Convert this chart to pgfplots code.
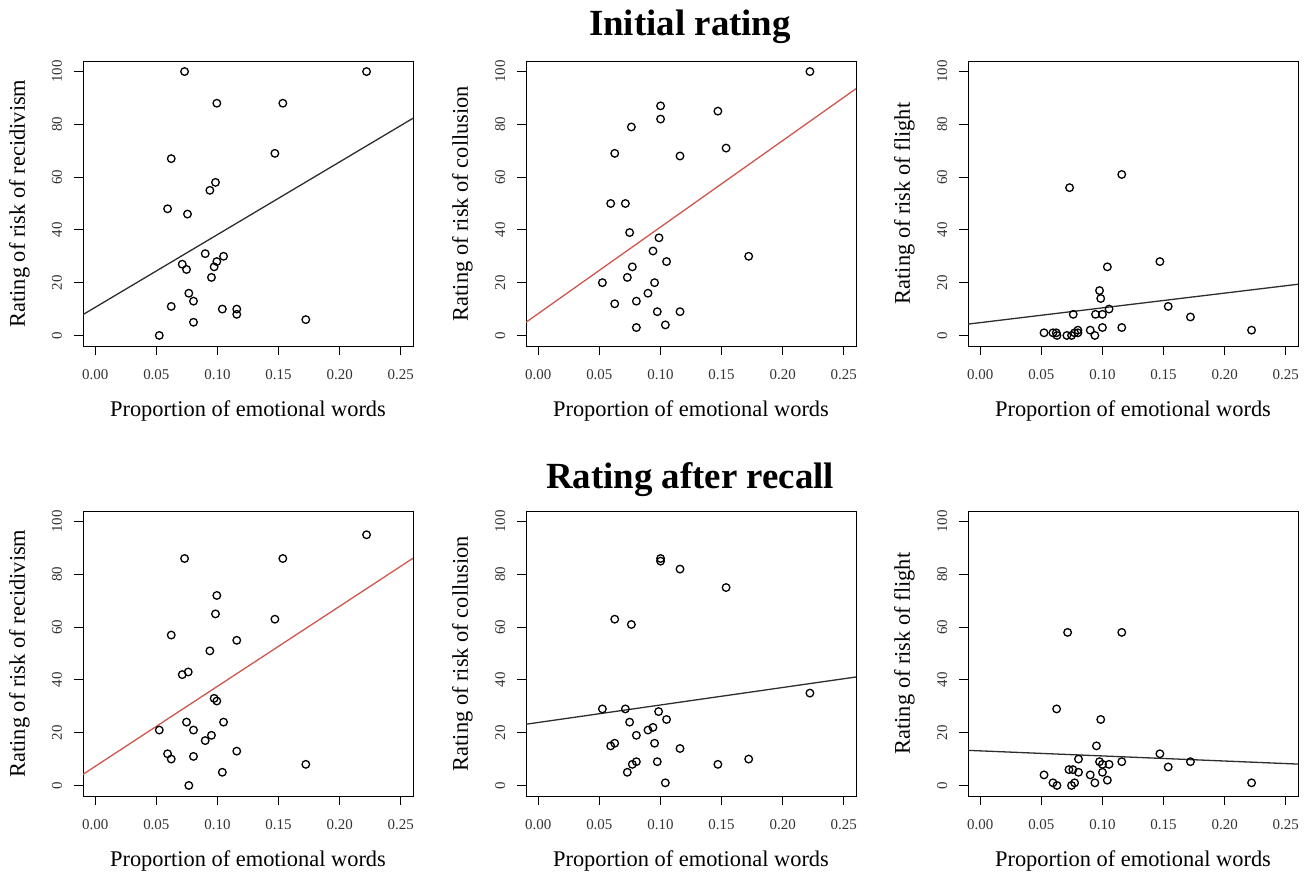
\documentclass[border=0pt]{standalone}
\usepackage{fontspec}
\setmainfont{Liberation Serif}
\usepackage{pgfplots}
\pgfplotsset{compat=1.18}
\definecolor{fitred}{RGB}{206,86,76}
\definecolor{fitdark}{RGB}{45,45,45}

\pgfplotsset{
  panel/.style={
    scale only axis, width=330bp, height=285bp,
    xmin=-0.01, xmax=0.26, ymin=-4, ymax=104,
    xtick={0,0.05,0.1,0.15,0.2,0.25},
    xticklabels={0.00,0.05,0.10,0.15,0.20,0.25},
    ytick={0,20,40,60,80,100},
    yticklabels={0,20,40,60,80,100},
    tick align=outside, tick pos=left,
    major tick length=9bp,
    tick style={line width=0.9bp, black},
    axis line style={line width=0.9bp},
    every tick label/.append style={font=\fontsize{15}{17}\selectfont, text=black!80},
    xticklabel style={anchor=base, yshift=-24.6bp},
    yticklabel style={rotate=90, anchor=base, yshift=12bp},
    xlabel={Proportion of emotional words},
    xlabel style={at={(axis description cs:0.5,-0.2456)}, anchor=base,
      font=\fontsize{22.5}{25}\selectfont},
    ylabel style={at={(axis description cs:-0.176,0.5)}, anchor=base,
      font=\fontsize{22.5}{25}\selectfont},
  },
  pts/.style={only marks, mark=o, mark size=3.8bp,
    mark options={line width=1.3bp}, black},
  fit/.style={no marks, line width=1.3bp},
}

\begin{document}
\begin{tikzpicture}
\path[use as bounding box] (0,0) rectangle (1310bp,-874bp);

\node[anchor=base, font=\fontsize{37}{42}\selectfont\bfseries] at (690bp,-35bp) {Initial rating};
\node[anchor=base, font=\fontsize{37}{42}\selectfont\bfseries] at (690bp,-488bp) {Rating after recall};

% ---- initial rating: recidivism
\begin{axis}[panel, at={(83bp,-61bp)}, anchor=north west,
  ylabel={Rating of risk of recidivism}]
\addplot[pts] coordinates {
  (0.0731,100)(0.222,100)(0.0995,88)(0.1535,88)(0.147,69)(0.0622,67)
  (0.0984,58)(0.0938,55)(0.0592,48)(0.0755,46)(0.090,31)(0.105,30)
  (0.0995,28)(0.0712,27)(0.0973,26)(0.0747,25)(0.0951,22)(0.0766,16)
  (0.0804,13)(0.0622,11)(0.104,10)(0.1158,10)(0.1158,8)(0.1723,6)
  (0.0804,5)(0.0524,0)
};
\addplot[fit, fitdark] coordinates {(-0.01,7.9)(0.26,82.3)};
\end{axis}

% ---- initial rating: collusion
\begin{axis}[panel, at={(526bp,-61bp)}, anchor=north west,
  ylabel={Rating of risk of collusion}]
\addplot[pts] coordinates {
  (0.2223,100)(0.1001,87)(0.1001,82)(0.147,85)(0.0762,79)(0.0626,69)
  (0.116,68)(0.1537,71)(0.0593,50)(0.0713,50)(0.0748,39)(0.0988,37)
  (0.0939,32)(0.1722,30)(0.105,28)(0.077,26)(0.0729,22)(0.0525,20)
  (0.0952,20)(0.0898,16)(0.0626,12)(0.0803,13)(0.0974,9)(0.116,9)
  (0.0803,3)(0.104,4)
};
\addplot[fit, fitred] coordinates {(-0.01,5.0)(0.26,93.5)};
\end{axis}

% ---- initial rating: flight
\begin{axis}[panel, at={(968bp,-61bp)}, anchor=north west,
  ylabel={Rating of risk of flight}]
\addplot[pts] coordinates {
  (0.0731,56)(0.1158,61)(0.104,26)(0.147,28)(0.0976,17)(0.0986,14)
  (0.0761,8)(0.0943,8)(0.1,8)(0.1054,10)(0.1538,11)(0.172,7)
  (0.222,2)(0.1,3)(0.1158,3)(0.0522,1)(0.0595,1)(0.0628,0)
  (0.0709,0)(0.0747,0)(0.0772,1)(0.0799,2)(0.0799,1)(0.090,2)
  (0.0938,0)(0.0622,1)
};
\addplot[fit, fitdark] coordinates {(-0.01,4.3)(0.26,19.4)};
\end{axis}

% ---- after recall: recidivism
\begin{axis}[panel, at={(83bp,-511bp)}, anchor=north west,
  ylabel={Rating of risk of recidivism}]
\addplot[pts] coordinates {
  (0.222,95)(0.0731,86)(0.1535,86)(0.0995,72)(0.0984,65)(0.147,63)
  (0.0622,57)(0.1158,55)(0.0938,51)(0.0761,43)(0.0712,42)(0.0973,33)
  (0.0995,32)(0.0747,24)(0.105,24)(0.0524,21)(0.0804,21)(0.0951,19)
  (0.090,17)(0.1158,13)(0.0592,12)(0.0622,10)(0.0804,11)(0.1723,8)
  (0.104,5)(0.0766,0)
};
\addplot[fit, fitred] coordinates {(-0.01,4.2)(0.26,86.1)};
\end{axis}

% ---- after recall: collusion
\begin{axis}[panel, at={(526bp,-511bp)}, anchor=north west,
  ylabel={Rating of risk of collusion}]
\addplot[pts] coordinates {
  (0.1001,86)(0.1001,85)(0.116,82)(0.1537,75)(0.0626,63)(0.0762,61)
  (0.2223,35)(0.0525,29)(0.0713,29)(0.0985,28)(0.105,25)(0.0748,24)
  (0.0939,22)(0.0898,21)(0.0803,19)(0.0952,16)(0.0626,16)(0.0593,15)
  (0.116,14)(0.1722,10)(0.147,8)(0.0974,9)(0.0803,9)(0.077,8)
  (0.0729,5)(0.104,1)
};
\addplot[fit, fitdark] coordinates {(-0.01,23.2)(0.26,41.1)};
\end{axis}

% ---- after recall: flight
\begin{axis}[panel, at={(968bp,-511bp)}, anchor=north west,
  ylabel={Rating of risk of flight}]
\addplot[pts] coordinates {
  (0.0715,58)(0.1158,58)(0.0625,29)(0.0986,25)(0.0951,15)(0.147,12)
  (0.0804,10)(0.0976,9)(0.1,8)(0.1054,8)(0.1158,9)(0.172,9)
  (0.1538,7)(0.0726,6)(0.0758,6)(0.0804,5)(0.1,5)(0.0522,4)
  (0.090,4)(0.104,2)(0.0595,1)(0.0772,1)(0.0938,1)(0.222,1)
  (0.0628,0)(0.0747,0)
};
\addplot[fit, fitdark] coordinates {(-0.01,13.3)(0.26,8.1)};
\end{axis}
\end{tikzpicture}
\end{document}
